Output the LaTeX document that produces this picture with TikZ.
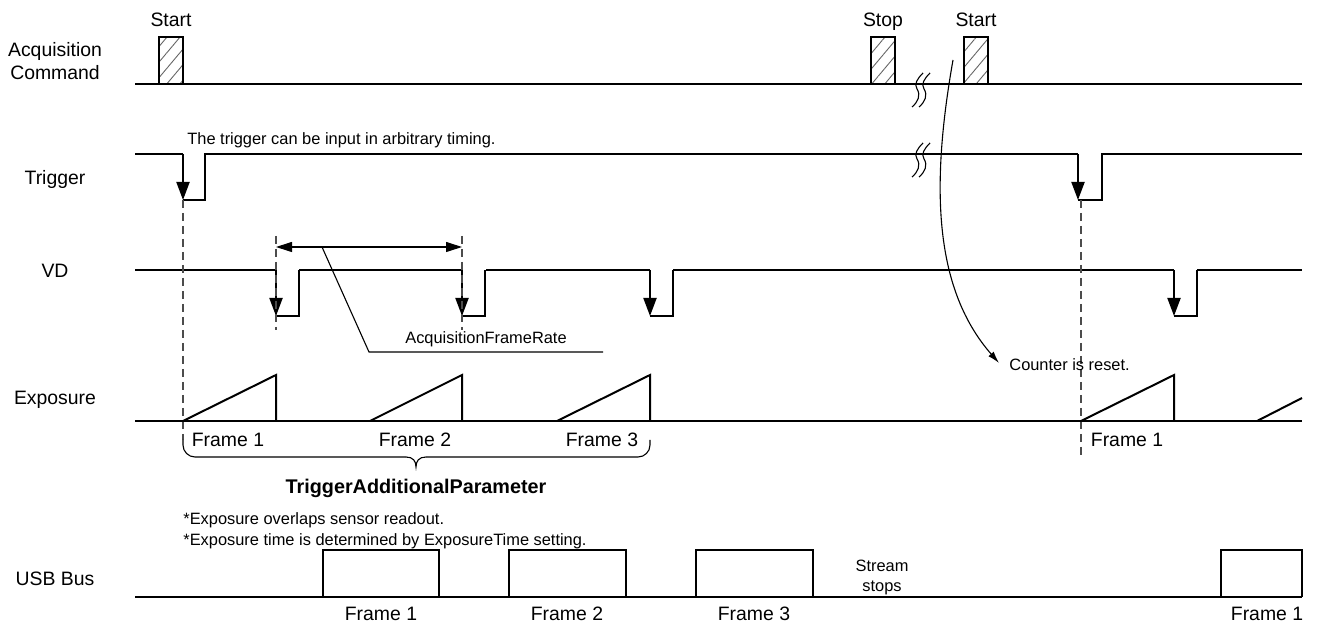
\documentclass[tikz,border=0pt]{standalone}
\usepackage{fontspec}
\setmainfont{Liberation Sans}
\usetikzlibrary{arrows.meta}
\usetikzlibrary{patterns.meta}

\tikzset{
  sig/.style={line width=1pt, line join=miter},
  thinline/.style={line width=0.55pt},
  guide/.style={line width=0.6pt, black!70, dash pattern=on 4pt off 2.5pt},
  edgetip/.style={-{Triangle[length=9pt,width=6.5pt]}},
  hatchbox/.style={line width=0.9pt, pattern={Lines[angle=50,distance=5pt,line width=0.45pt]}, pattern color=black!60},
  lbl/.style={font=\fontsize{9.7}{11.5}\selectfont, inner sep=0pt, text height=0.72em, text depth=0pt},
  note/.style={font=\fontsize{8.2}{10}\selectfont, inner sep=0pt, text height=0.72em, text depth=0pt},
}

\begin{document}
\begin{tikzpicture}[x=0.5pt, y=-0.5pt]
  \useasboundingbox (0,0) rectangle (1322,625);

  % signal names
  \node[lbl] (acqname) at (55,49) {Acquisition};
  \node[lbl] (cmdname) at (55,72) {Command};
  \node[lbl] (trigname) at (55,177) {Trigger};
  \node[lbl] (vdname) at (55,270) {VD};
  \node[lbl] (expname) at (55,397) {Exposure};
  \node[lbl] (usbname) at (55,578) {USB Bus};

  % Acquisition Command
  \draw[sig] (135,84) -- (1302,84);
  \foreach \a in {159,871,964}
    \draw[hatchbox] (\a,84) rectangle (\a+24,37);
  \node[lbl] (start1) at (171,19) {Start};
  \node[lbl] (stop) at (883,19) {Stop};
  \node[lbl] (start2) at (976,19) {Start};

  % Trigger
  \draw[sig] (135,154) -- (183,154);
  \draw[sig, edgetip] (183,154) -- (183,200);
  \draw[sig] (183,200) -- (205,200) -- (205,154) -- (1078,154);
  \draw[sig, edgetip] (1078,154) -- (1078,200);
  \draw[sig] (1078,200) -- (1102,200) -- (1102,154) -- (1302,154);
  \node[note, anchor=west] (trignote) at (187,137) {The trigger can be input in arbitrary timing.};

  % breaks
  \foreach \y in {84,154}
    \foreach \dx in {0,7}
      \draw[thinline] (\dx+923,\y-11) .. controls (\dx+917,\y-5) and (\dx+914,\y) .. (\dx+917,\y+5)
        .. controls (\dx+921,\y+11) and (\dx+918,\y+18) .. (\dx+912,\y+23);

  % VD
  \foreach \a/\b in {135/276, 299/462, 486/650, 673/1174, 1197/1302}
    \draw[sig] (\a,270) -- (\b,270);
  \foreach \x in {276,462,650,1174} {
    \draw[sig, edgetip] (\x,270) -- (\x,316);
    \draw[sig] (\x,316) -- (\x+23,316) -- (\x+23,270);
  }

  % guides
  \draw[guide] (183,200) -- (183,440);
  \draw[guide] (1081,200) -- (1081,455);
  \draw[guide] (276,236) -- (276,330);
  \draw[guide] (462,236) -- (462,330);

  % frame rate
  \coordinate (fr1) at (276,247);
  \coordinate (fr2) at (462,247);
  \draw[thinline, {Triangle[length=8pt,width=5pt]}-{Triangle[length=8pt,width=5pt]}] (fr1) -- (fr2);
  \node[note] (ratelbl) at (486,336) {AcquisitionFrameRate};
  \draw[thinline] (322,247) -- (369,352) -- (603,352);

  % counter reset
  \node[note, anchor=west] (resetlbl) at (1009,363) {Counter is reset.};
  \coordinate (resetfrom) at (953,60);
  \draw[thinline, -{Latex[length=6pt,width=3.5pt]}] (resetfrom) .. controls (930,190) and (935,290) .. ([xshift=-5pt]resetlbl.west);

  % Exposure
  \draw[sig] (135,421) -- (1302,421);
  \foreach \s/\e in {183/276, 370/462, 557/650, 1081/1174}
    \draw[sig] (\s,421) -- (\e,375) -- (\e,421);
  \draw[sig] (1257,421) -- (1302,398);
  \node[lbl] (ef1) at (228,439) {Frame 1};
  \node[lbl] (ef2) at (415,439) {Frame 2};
  \node[lbl] (ef3) at (602,439) {Frame 3};
  \node[lbl] (ef4) at (1127,439) {Frame 1};

  % brace
  \draw[thinline, rounded corners=6pt] (183,440) -- (183,457) -- (406,457);
  \draw[thinline] (406,457) .. controls (413,457) and (416,461) .. (416,467)
    .. controls (416,461) and (419,457) .. (426,457);
  \draw[thinline, rounded corners=6pt] (426,457) -- (650,457) -- (650,440);
  \node[font=\fontsize{9.9}{12}\selectfont\bfseries, inner sep=0pt, text height=0.72em, text depth=0pt] (tappar) at (416,486) {TriggerAdditionalParameter};
  \node[note, anchor=west] (note1) at (183,517) {*Exposure overlaps sensor readout.};
  \node[note, anchor=west] (note2) at (183,538) {*Exposure time is determined by ExposureTime setting.};

  % USB Bus
  \draw[sig] (135,597) -- (1302,597);
  \foreach \a/\b in {323/439, 509/626, 696/813, 1221/1302}
    \draw[sig] (\a,597) -- (\a,550) -- (\b,550) -- (\b,597);
  \node[note] (stream1) at (882,564) {Stream};
  \node[note] (stream2) at (882,584) {stops};
  \node[lbl] (uf1) at (381,613) {Frame 1};
  \node[lbl] (uf2) at (567,613) {Frame 2};
  \node[lbl] (uf3) at (754,613) {Frame 3};
  \node[lbl] (uf4) at (1267,613) {Frame 1};
\end{tikzpicture}
\end{document}
